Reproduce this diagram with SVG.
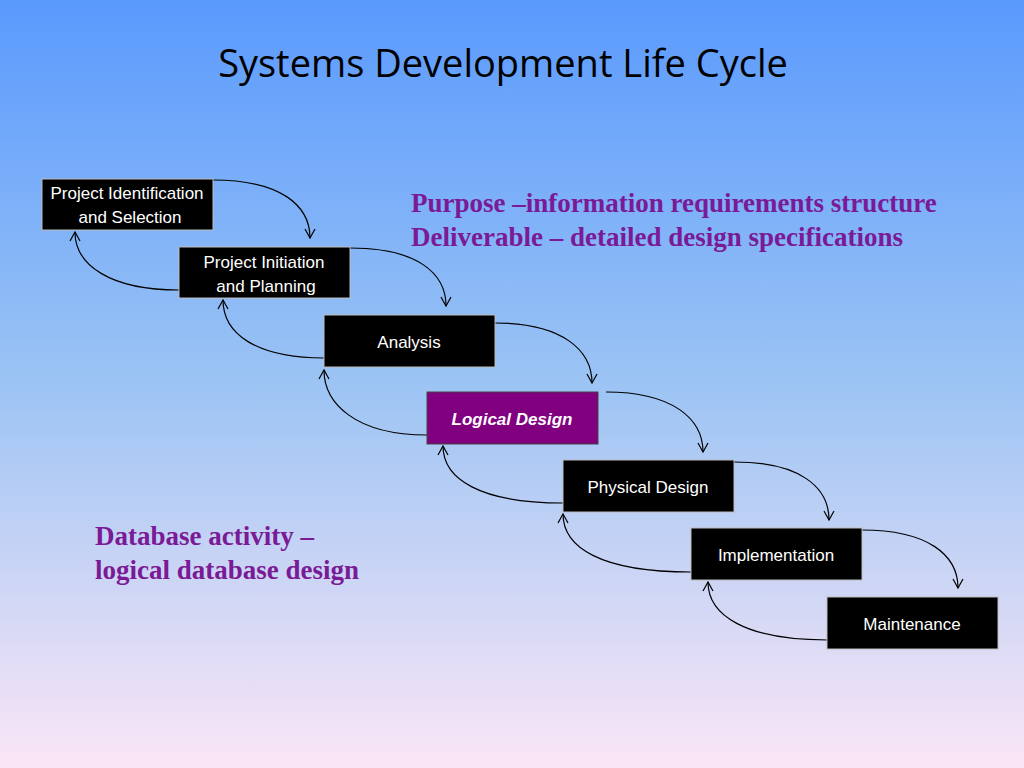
<svg xmlns="http://www.w3.org/2000/svg" width="1024" height="768" viewBox="0 0 1024 768">
<defs>
<linearGradient id="bg" x1="0" y1="0" x2="0" y2="1">
<stop offset="0" stop-color="#5a9afd"/>
<stop offset="0.5" stop-color="#9cc4f4"/>
<stop offset="1" stop-color="#fbe6f6"/>
</linearGradient>
<marker id="ah" markerWidth="12" markerHeight="12" refX="10" refY="6" orient="auto" markerUnits="userSpaceOnUse">
<path d="M1,1 L10,6 L1,11" fill="none" stroke="#000" stroke-width="1.2"/>
</marker>
<style>
.box{fill:#000;stroke:#bbb;stroke-width:1}
.lbl{font-family:"Liberation Sans",Arial,sans-serif;font-size:17px;fill:#fff;text-anchor:middle}
.c{fill:none;stroke:#000;stroke-width:1.2;marker-end:url(#ah)}
.pt{font-family:"Liberation Serif","Times New Roman",serif;font-weight:bold;font-size:27px;fill:#7a1a96}
</style>
</defs>
<rect width="1024" height="768" fill="url(#bg)"/>
<text x="503" y="77" font-family="Open Sans,Liberation Sans,sans-serif" font-size="38" text-anchor="middle" fill="#000">Systems Development Life Cycle</text>
<g id="connectors">
<path class="c" d="M213,180 C280,180 310,205 310,238"/>
<path class="c" d="M350,248 C417,248 446,273 446,306"/>
<path class="c" d="M495,323 C562,323 592,350 592,383"/>
<path class="c" d="M606,392 C673,392 703,419 703,452"/>
<path class="c" d="M734,462 C800,462 829,487 829,520"/>
<path class="c" d="M862,530 C928,530 958,555 958,588"/>
<path class="c" d="M179,290 C110,290 75,265 75,232"/>
<path class="c" d="M324,358 C255,358 223,333 223,300"/>
<path class="c" d="M427,435 C355,435 324,403 324,370"/>
<path class="c" d="M563,503 C480,503 443,479 443,446"/>
<path class="c" d="M691,572 C600,572 563,547 563,514"/>
<path class="c" d="M827,640 C745,640 708,615 708,582"/>
</g>
<g id="n1"><rect class="box" x="42" y="179" width="171" height="51"/><text class="lbl" x="127" y="199">Project Identification</text><text class="lbl" x="130" y="223">and Selection</text></g>
<g id="n2"><rect class="box" x="179" y="247" width="171" height="51"/><text class="lbl" x="264" y="268">Project Initiation</text><text class="lbl" x="266" y="292">and Planning</text></g>
<g id="n3"><rect class="box" x="324" y="315" width="171" height="52"/><text class="lbl" x="409" y="348">Analysis</text></g>
<g id="n4"><rect x="427" y="392" width="171" height="52" fill="#800080" stroke="#444"/><text class="lbl" x="512" y="425" font-weight="bold" font-style="italic">Logical Design</text></g>
<g id="n5"><rect class="box" x="563" y="460" width="171" height="52"/><text class="lbl" x="648" y="493">Physical Design</text></g>
<g id="n6"><rect class="box" x="691" y="528" width="171" height="52"/><text class="lbl" x="776" y="561">Implementation</text></g>
<g id="n7"><rect class="box" x="827" y="597" width="171" height="52"/><text class="lbl" x="912" y="630">Maintenance</text></g>
<text class="pt" x="411" y="212">Purpose –information requirements structure</text>
<text class="pt" x="411" y="246">Deliverable – detailed design specifications</text>
<text class="pt" x="95" y="545">Database activity –</text>
<text class="pt" x="95" y="579">logical database design</text>
</svg>
